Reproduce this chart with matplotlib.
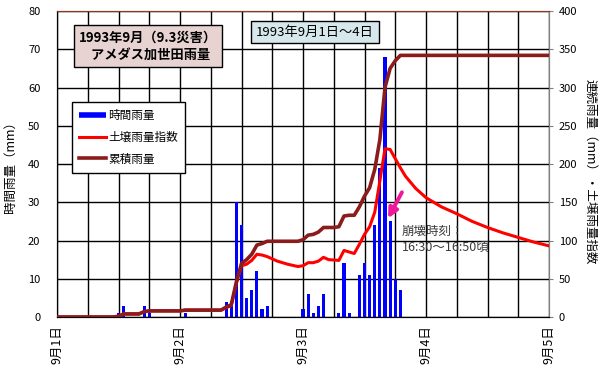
import matplotlib
matplotlib.use('Agg')
import matplotlib.pyplot as plt
from matplotlib.lines import Line2D

plt.rcParams['font.family'] = ['Noto Sans CJK JP', 'DejaVu Sans']

# 時間雨量 (9月1日0時からの経過時間, mm)
rain_hours = [12, 13, 17, 18, 25, 33, 34, 35, 36, 37, 38, 39, 40, 41,
              48, 49, 50, 51, 52, 55, 56, 57, 59, 60, 61, 62, 63, 64, 65, 66, 67]
rain_mm = [1, 3, 3, 1, 1, 4, 3, 30, 24, 5, 7, 12, 2, 3,
           2, 6, 1, 3, 6, 1, 14, 1, 11, 14, 11, 24, 39, 68, 25, 10, 7]

# 累積雨量 (mm)
cum_hours = [0, 11, 12, 13, 16, 17, 18, 24, 25, 32, 33, 34, 35, 36, 37, 38, 39, 40, 41,
             47, 48, 49, 50, 51, 52, 54, 55, 56, 57, 58, 59, 60, 61, 62, 63, 64, 65, 66, 67, 96]
cum_mm = [0, 0, 1, 4, 4, 7, 8, 8, 9, 9, 13, 16, 46, 70, 75, 82, 94, 96, 99,
          99, 101, 107, 108, 111, 117, 117, 118, 132, 133, 133, 144, 158, 169, 193, 232, 300, 325, 335, 342, 342]

# 土壌雨量指数
soil_hours = [0, 11, 12, 13, 16, 17, 18, 24, 25, 32, 33, 34, 35, 36, 37, 38, 39, 40, 41,
              43, 45, 47, 48, 49, 50, 51, 52, 53, 55, 56, 57, 58, 59, 60, 61, 62, 63,
              64, 65, 66, 67, 68, 69, 70, 72, 75, 78, 81, 84, 87, 90, 93, 96]
soil_idx = [0, 0, 1, 4, 4, 7, 8, 8, 9, 9, 12, 15, 44, 67, 69, 74, 82, 81, 79,
            73, 69, 66, 67, 71, 71, 73, 78, 75, 74, 87, 85, 83, 95, 108, 118, 137, 178,
            220, 219, 207, 195, 184, 176, 168, 156, 144, 135, 125, 117, 110, 104, 98, 93]

day_ticks = [0, 24, 48, 72, 96]
day_labels = ['9月1日', '9月2日', '9月3日', '9月4日', '9月5日']

fig = plt.figure(figsize=(6.05, 3.75), dpi=100)
ax = fig.add_axes([57 / 605, 1 - 317 / 375, 492 / 605, 306 / 375])
ax2 = ax.twinx()

# グリッド
for h in range(0, 97, 6):
    ax.axvline(h, color='black', lw=1.0, zorder=0)
for v in range(0, 81, 10):
    ax.axhline(v, color='black', lw=1.0, zorder=0)

# 時間雨量 (棒)
ax.bar(rain_hours, rain_mm, width=0.6, color='#0000ff', zorder=2)

# 土壌雨量指数・累積雨量 (線)
ax2.plot(soil_hours, soil_idx, color='#ff0000', lw=2.2, zorder=3)
ax2.plot(cum_hours, cum_mm, color='#8b1c1c', lw=2.6, zorder=4)

ax.set_xlim(0, 96)
ax.set_ylim(0, 80)
ax2.set_ylim(0, 400)
ax.set_yticks(range(0, 81, 10))
ax2.set_yticks(range(0, 401, 50))
ax.set_xticks(day_ticks)
ax.set_xticklabels(day_labels, rotation=90, fontsize=9)

ax.tick_params(axis='y', length=0, pad=12, labelsize=8)
ax.tick_params(axis='x', length=0, pad=6)
ax2.tick_params(axis='y', length=3, color='#808080', pad=4, labelsize=8)

for s in ['left', 'bottom']:
    ax.spines[s].set_color('black')
for a in [ax, ax2]:
    a.spines['top'].set_color('#8a3c1e')
    a.spines['right'].set_color('#808080')

ax.set_ylabel('時間雨量（mm）', fontsize=9, labelpad=8)
ax2.set_ylabel('連続雨量（mm）・土壌雨量指数', fontsize=9, rotation=-90, labelpad=14)
ax2.yaxis.label.set_y(0.475)

# タイトル枠
fig.text(148 / 605, 1 - 46 / 375, '1993年9月（9.3災害）\n  アメダス加世田雨量',
         fontsize=9.5, fontweight='bold', ha='center', va='center', linespacing=1.3,
         bbox=dict(boxstyle='square,pad=0.38', fc='#e8d3d3', ec='black', lw=1))
fig.text(315 / 605, 1 - 32 / 375, '1993年9月1日～4日', fontsize=9.5,
         ha='center', va='center',
         bbox=dict(boxstyle='square,pad=0.35', fc='#d6e8ec', ec='black', lw=1))

# 凡例
handles = [Line2D([], [], color='#0000ff', lw=4, solid_capstyle='butt'),
           Line2D([], [], color='#ff0000', lw=2.2),
           Line2D([], [], color='#8b1c1c', lw=2.6)]
leg = ax.legend(handles, ['時間雨量', '土壌雨量指数', '累積雨量'],
                loc='upper left', bbox_to_anchor=(72 / 605, 1 - 102 / 375),
                bbox_transform=fig.transFigure, borderaxespad=0,
                fontsize=8.4, handlelength=2.3, handletextpad=0.2,
                labelspacing=0.75, borderpad=0.6, fancybox=False, framealpha=1)
leg.get_frame().set_edgecolor('black')
leg.get_frame().set_linewidth(1)
leg.set_zorder(10)

# 崩壊時刻
ax2.annotate('', xy=(64.6, 129), xytext=(67.3, 163),
             arrowprops=dict(arrowstyle='-|>', color='#f0189a', lw=2.8,
                             mutation_scale=14, shrinkA=0, shrinkB=0))
ax2.text(67.3, 121, '崩壊時刻：\n16:30～16:50頃', fontsize=9, color='#3a3a3a',
         va='top', ha='left', linespacing=1.3)

fig.savefig('out.png', dpi=100)
